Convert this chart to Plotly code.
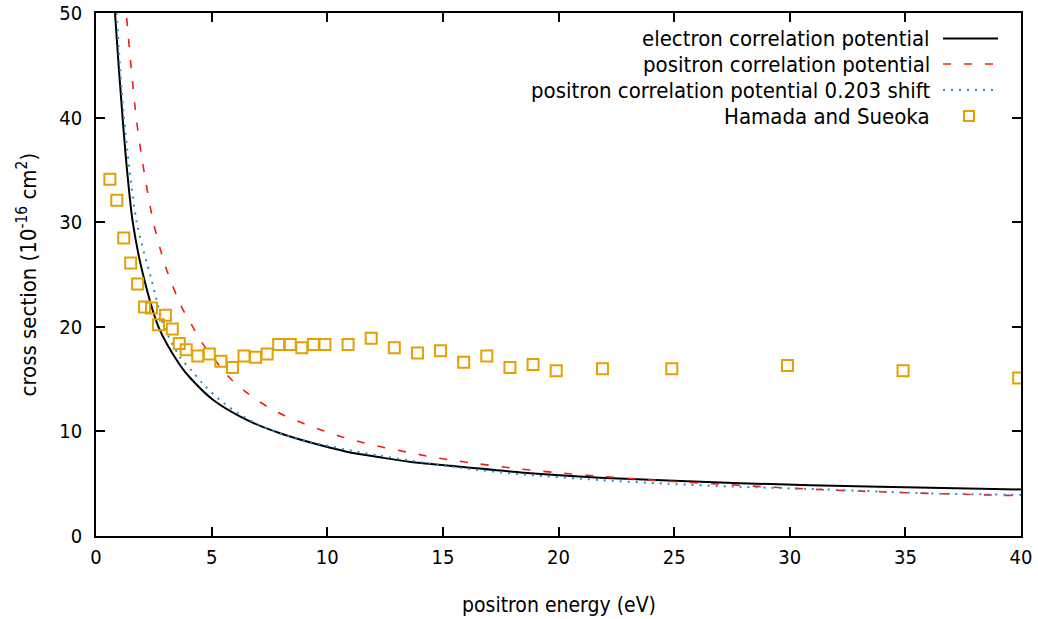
import plotly.graph_objects as go

# ---- data ----
elec_E = [0.78, 0.82, 1.15, 1.35, 1.59, 2.0, 2.7, 3.63, 4.06, 5.07, 6.52, 7.96,
          9.4, 10.84, 12.28, 13.72, 15.74, 18.5, 21.8, 27.85, 33.9, 40.0]
elec_Y = [52.0, 50.0, 40.0, 34.8, 30.0, 25.3, 20.0, 16.35, 15.15, 13.0, 11.1, 9.82,
          8.86, 8.06, 7.52, 7.04, 6.63, 6.05, 5.58, 5.04, 4.71, 4.45]

pos_E = [1.27, 1.31, 1.74, 2.0, 2.48, 3.0, 3.7, 4.21, 4.64, 5.79, 6.52, 7.31, 8.1, 8.96,
         9.83, 10.69, 11.56, 12.5, 13.43, 14.3, 15.3, 16.17, 17.98, 19.78, 21.65, 23.52,
         25.3, 27.2, 28.06, 31.7, 35.5, 39.2, 40.0]
pos_Y = [51.5, 50.0, 40.0, 35.9, 30.0, 25.8, 21.9, 19.9, 18.3, 15.1, 13.7, 12.5, 11.57, 10.77,
         10.07, 9.44, 8.92, 8.44, 8.03, 7.65, 7.27, 7.01, 6.50, 6.09, 5.74, 5.42,
         5.16, 4.94, 4.81, 4.40, 4.11, 3.89, 3.85]

shift_E = [0.86, 0.89, 1.21, 1.76, 2.4, 2.95, 3.63, 4.14, 4.6, 5.36, 6.23, 7.16, 8.17,
           9.18, 10.2, 11.27, 12.28, 13.72, 15.8, 18.6, 21.8, 24.67, 27.85, 32.2, 35.9, 40.0]
shift_Y = [51.5, 50.0, 40.0, 30.0, 24.5, 20.0, 17.1, 15.8, 14.6, 13.0, 11.6, 10.5, 9.66,
           9.02, 8.54, 8.06, 7.68, 7.17, 6.5, 5.86, 5.35, 5.0, 4.70, 4.40, 4.08, 3.93]

hs_E = [0.6, 0.9, 1.2, 1.5, 1.8, 2.1, 2.4, 2.7, 3.0, 3.3, 3.6, 3.9, 4.4, 4.9, 5.4, 5.9,
        6.4, 6.9, 7.4, 7.9, 8.4, 8.9, 9.4, 9.9, 10.9, 11.9, 12.9, 13.9, 14.9, 15.9,
        16.9, 17.9, 18.9, 19.9, 21.9, 24.9, 29.9, 34.9, 39.9]
hs_Y = [34.1, 32.1, 28.5, 26.1, 24.1, 21.9, 21.8, 20.2, 21.1, 19.8, 18.4, 17.8, 17.2, 17.4,
        16.7, 16.1, 17.2, 17.1, 17.4, 18.3, 18.3, 18.0, 18.3, 18.3, 18.3, 18.9, 18.0, 17.5,
        17.7, 16.6, 17.2, 16.1, 16.4, 15.8, 16.0, 16.0, 16.3, 15.8, 15.1]

x_ticks = [0, 5, 10, 15, 20, 25, 30, 35, 40]
y_ticks = [0, 10, 20, 30, 40, 50]

legend_names = ["electron correlation potential", "positron correlation potential",
                "positron correlation potential 0.203 shift", "Hamada and Sueoka"]

FONT = "DejaVu Sans Condensed, DejaVu Sans, sans-serif"
C_BLACK = "#000000"
C_RED = "#f01c1c"
C_BLUE = "#2a8ccc"
C_ORANGE = "#e69f00"

fig = go.Figure()
fig.add_trace(go.Scatter(x=elec_E, y=elec_Y, mode="lines", name=legend_names[0],
                         line=dict(color=C_BLACK, width=2, shape="spline", smoothing=0.8)))
fig.add_trace(go.Scatter(x=pos_E, y=pos_Y, mode="lines", name=legend_names[1],
                         line=dict(color=C_RED, width=1.6, dash="8px,13px", shape="spline", smoothing=0.8)))
fig.add_trace(go.Scatter(x=shift_E, y=shift_Y, mode="lines", name=legend_names[2],
                         line=dict(color=C_BLUE, width=2, dash="2px,6px", shape="spline", smoothing=0.8)))
fig.add_trace(go.Scatter(x=hs_E, y=hs_Y, mode="markers", name=legend_names[3],
                         marker=dict(symbol="square-open", size=11, color=C_ORANGE,
                                     line=dict(width=2, color=C_ORANGE))))

# plot area geometry (pixels)
L, R, T, B = 96, 1021, 13, 536
W, H = 1038, 619
PW, PH = R - L, B - T

def px(xp):
    return (xp - L) / PW

def py(yp):
    return (B - yp) / PH

# manual gnuplot-style legend (text right-aligned, sample on the right)
rows = [38.5, 64, 90, 116]
text_right = 932
s0, s1 = 943, 998
annots = []
shapes = []
for i, name in enumerate(legend_names):
    annots.append(dict(xref="paper", yref="paper", x=px(text_right), y=py(rows[i]),
                       xanchor="right", yanchor="middle", text=name, showarrow=False,
                       font=dict(family=FONT, size=22, color="#000")))
shapes.append(dict(type="line", xref="paper", yref="paper", x0=px(s0), x1=px(s1),
                   y0=py(rows[0]), y1=py(rows[0]), line=dict(color=C_BLACK, width=2)))
shapes.append(dict(type="line", xref="paper", yref="paper", x0=px(s0), x1=px(s1),
                   y0=py(rows[1]), y1=py(rows[1]), line=dict(color=C_RED, width=1.6, dash="8px,13px")))
shapes.append(dict(type="line", xref="paper", yref="paper", x0=px(s0), x1=px(s1),
                   y0=py(rows[2]), y1=py(rows[2]), line=dict(color=C_BLUE, width=2, dash="2px,6px")))
shapes.append(dict(type="rect", xref="paper", yref="paper", xsizemode="pixel", ysizemode="pixel",
                   xanchor=px(969), yanchor=py(rows[3]), x0=-5, x1=5, y0=-5, y1=5,
                   line=dict(color=C_ORANGE, width=2)))

# axis titles
annots.append(dict(xref="paper", yref="paper", x=0.5, y=0, yshift=-(605 - B),
                   xanchor="center", yanchor="middle", showarrow=False,
                   text="positron energy (eV)", font=dict(family=FONT, size=21, color="#000")))
annots.append(dict(xref="paper", yref="paper", x=0, y=0.5, xshift=-(L - 26),
                   xanchor="center", yanchor="middle", showarrow=False, textangle=-90,
                   text="cross section (10<sup>-16</sup> cm<sup>2</sup>)",
                   font=dict(family=FONT, size=22, color="#000")))

axis_common = dict(showline=True, linecolor="#000", linewidth=1.5, mirror="ticks",
                   ticks="inside", ticklen=9, tickwidth=1.5, tickcolor="#000",
                   showgrid=False, zeroline=False, automargin=False,
                   tickfont=dict(family=FONT, size=20, color="#000"))

fig.update_layout(
    width=W, height=H,
    margin=dict(l=L, r=W - R, t=T, b=H - B),
    paper_bgcolor="white", plot_bgcolor="white",
    showlegend=False,
    xaxis=dict(range=[0, 40], tickvals=x_ticks, ticklabelstandoff=2, **axis_common),
    yaxis=dict(range=[0, 50], tickvals=y_ticks, ticklabelstandoff=8, **axis_common),
    annotations=annots, shapes=shapes,
)

fig.write_html("out.html")
